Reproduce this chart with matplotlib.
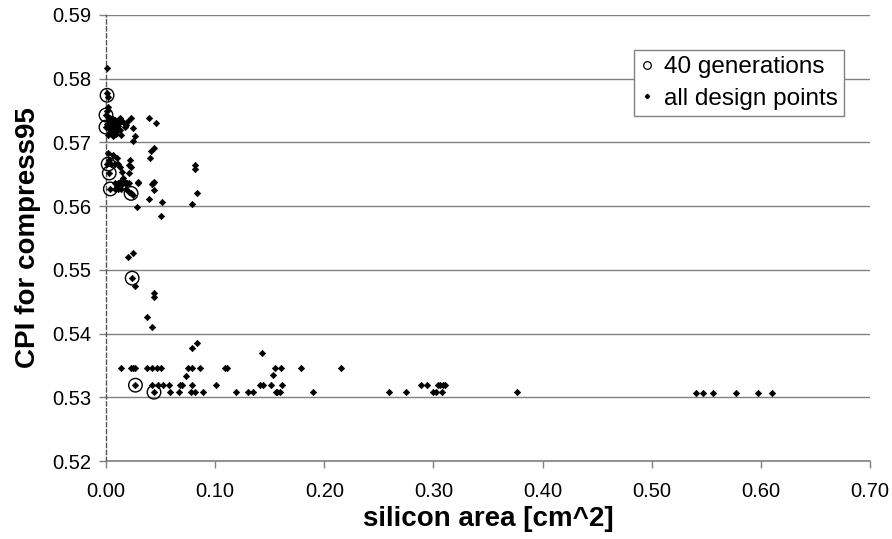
import matplotlib
matplotlib.use("Agg")
import matplotlib.pyplot as plt
from matplotlib.lines import Line2D

plt.rcParams['font.family'] = ['Liberation Sans', 'DejaVu Sans']

# 40 generations (circled points)
gen_x = [0.001, 0.000, 0.000, 0.002, 0.003, 0.004, 0.023, 0.024, 0.027, 0.044]
gen_y = [0.5774, 0.5743, 0.5724, 0.5666, 0.5652, 0.5627, 0.5620, 0.5487, 0.5319, 0.5308]

# all design points
all_x = [
    0.001, 0.001, 0.002, 0.002, 0.001,
    0.000, 0.002, 0.004, 0.006, 0.003, 0.005, 0.008, 0.010, 0.001, 0.003,
    0.006, 0.009, 0.012, 0.014, 0.000, 0.002, 0.005, 0.008, 0.011, 0.004,
    0.007, 0.010, 0.013, 0.016, 0.018, 0.002, 0.006, 0.009,
    0.013, 0.023, 0.039, 0.046, 0.025, 0.027, 0.025, 0.014, 0.020, 0.017,
    0.002, 0.006, 0.010, 0.003, 0.001, 0.005, 0.008, 0.011,
    0.022, 0.021, 0.023, 0.013, 0.003, 0.015, 0.021, 0.016, 0.013, 0.017,
    0.021, 0.029, 0.010, 0.015, 0.004, 0.008, 0.011, 0.014, 0.018,
    0.021, 0.023, 0.025, 0.008, 0.011, 0.014, 0.017, 0.019, 0.029,
    0.044, 0.041, 0.040, 0.082, 0.082, 0.043, 0.042, 0.044, 0.039, 0.051,
    0.083, 0.079, 0.050, 0.028, 0.044,
    0.025, 0.020, 0.024, 0.027, 0.044, 0.044, 0.038, 0.042, 0.083, 0.079,
    0.143,
    0.014, 0.023, 0.025, 0.027, 0.038, 0.042, 0.047, 0.050, 0.075, 0.079,
    0.086, 0.109, 0.111, 0.155, 0.160, 0.179, 0.215,
    0.073, 0.153,
    0.027, 0.042, 0.048, 0.052, 0.058, 0.068, 0.070, 0.079, 0.101, 0.141,
    0.144, 0.151, 0.161, 0.289, 0.294, 0.304, 0.306, 0.309, 0.311,
    0.044, 0.059, 0.067, 0.078, 0.082, 0.089, 0.119, 0.130, 0.135, 0.156,
    0.157, 0.159, 0.190, 0.259, 0.275, 0.300, 0.302, 0.308, 0.377, 0.541,
    0.547, 0.556, 0.577, 0.597, 0.610,
]
all_y = [
    0.5817, 0.5777, 0.5771, 0.5756, 0.5750,
    0.5743, 0.5740, 0.5738, 0.5736, 0.5733, 0.5731, 0.5735, 0.5733, 0.5729, 0.5726,
    0.5727, 0.5729, 0.5730, 0.5733, 0.5724, 0.5722, 0.5721, 0.5723, 0.5725, 0.5716,
    0.5715, 0.5718, 0.5720, 0.5732, 0.5728, 0.5712, 0.5710, 0.5713,
    0.5738, 0.5738, 0.5738, 0.5730, 0.5722, 0.5710, 0.5703, 0.5711, 0.5733, 0.5724,
    0.5683, 0.5680, 0.5675, 0.5672, 0.5666, 0.5666, 0.5666, 0.5666,
    0.5672, 0.5664, 0.5661, 0.5661, 0.5652, 0.5653, 0.5652, 0.5644, 0.5638, 0.5638,
    0.5636, 0.5636, 0.5631, 0.5634, 0.5627, 0.5627, 0.5627, 0.5627, 0.5627,
    0.5622, 0.5620, 0.5618, 0.5636, 0.5636, 0.5636, 0.5636, 0.5636, 0.5638,
    0.5692, 0.5686, 0.5675, 0.5664, 0.5658, 0.5636, 0.5634, 0.5625, 0.5611, 0.5606,
    0.5620, 0.5603, 0.5584, 0.5598, 0.5638,
    0.5526, 0.5520, 0.5487, 0.5474, 0.5463, 0.5457, 0.5426, 0.5411, 0.5385, 0.5377,
    0.5369,
    0.5346, 0.5346, 0.5346, 0.5346, 0.5346, 0.5346, 0.5346, 0.5346, 0.5346, 0.5346,
    0.5346, 0.5346, 0.5346, 0.5346, 0.5346, 0.5346, 0.5346,
    0.5333, 0.5335,
    0.5319, 0.5319, 0.5319, 0.5319, 0.5319, 0.5319, 0.5319, 0.5319, 0.5319, 0.5319,
    0.5319, 0.5319, 0.5319, 0.5319, 0.5319, 0.5319, 0.5319, 0.5319, 0.5319,
    0.5308, 0.5308, 0.5308, 0.5308, 0.5308, 0.5308, 0.5308, 0.5308, 0.5308, 0.5308,
    0.5308, 0.5308, 0.5308, 0.5308, 0.5308, 0.5308, 0.5308, 0.5308, 0.5308, 0.5307,
    0.5307, 0.5307, 0.5307, 0.5307, 0.5307,
]

x_ticks = [0.0, 0.1, 0.2, 0.3, 0.4, 0.5, 0.6, 0.7]
y_ticks = [0.52, 0.53, 0.54, 0.55, 0.56, 0.57, 0.58, 0.59]

fig = plt.figure(figsize=(8.92, 5.39), dpi=100)
ax = fig.add_axes([0.1188, 0.1447, 0.9753 - 0.1188, 0.9722 - 0.1447])

ax.set_xlim(0.0, 0.7)
ax.set_ylim(0.52, 0.59)
ax.set_xticks(x_ticks)
ax.set_yticks(y_ticks)
ax.set_xticklabels([f"{v:.2f}" for v in x_ticks])
ax.set_yticklabels([f"{v:.2f}" for v in y_ticks])

ax.grid(axis='y', color='#808080', linewidth=1.0, linestyle='-', zorder=0)
ax.set_axisbelow(True)

for s in ['top', 'right']:
    ax.spines[s].set_visible(False)
ax.spines['left'].set_linestyle((0, (3, 2)))
ax.spines['left'].set_color('#555555')
ax.spines['left'].set_linewidth(1.0)
ax.spines['bottom'].set_color('#808080')
ax.spines['bottom'].set_linewidth(1.2)

ax.tick_params(axis='both', direction='out', length=5, width=1, color='#808080',
               labelsize=14.5, labelcolor='black')
ax.tick_params(axis='x', pad=10)
ax.tick_params(axis='y', pad=5.5)

ax.scatter(all_x, all_y, marker='D', s=11, color='black', linewidths=0.4,
           edgecolors='black', zorder=3, clip_on=False)
ax.scatter(gen_x, gen_y, marker='o', s=95, facecolors='none', edgecolors='black',
           linewidths=1.0, zorder=4, clip_on=False)

ax.set_xlabel("silicon area [cm^2]", fontsize=20, fontweight='bold', labelpad=4)
ax.set_ylabel("CPI for compress95", fontsize=20, fontweight='bold', labelpad=8)

handles = [
    Line2D([], [], linestyle='none', marker='o', markersize=5.5, markerfacecolor='none',
           markeredgecolor='black', markeredgewidth=0.9, label='40 generations'),
    Line2D([], [], linestyle='none', marker='D', markersize=2.2, color='black',
           label='all design points'),
]
leg = ax.legend(handles=handles, loc='upper right', bbox_to_anchor=(0.966, 0.9215),
                fontsize=17.5, frameon=True, fancybox=False, borderpad=0.25,
                handlelength=0.6, handletextpad=0.4, labelspacing=0.4,
                borderaxespad=0.0)
leg.get_frame().set_edgecolor('#808080')
leg.get_frame().set_linewidth(1.0)
leg.get_frame().set_alpha(1.0)

fig.savefig("out.png", dpi=100)
